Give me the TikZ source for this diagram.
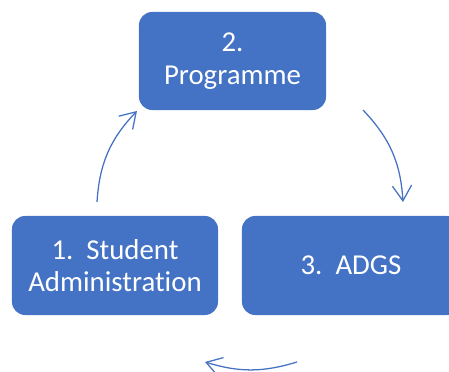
\documentclass[tikz,border=0pt]{standalone}
\usepackage{fontspec}
\setmainfont[Ligatures=NoCommon]{Carlito}
\usetikzlibrary{arrows.meta}
\definecolor{stageblue}{HTML}{4472C4}
\begin{document}
\begin{tikzpicture}[x=0.025cm,y=0.025cm,
		stage/.style={rectangle,rounded corners=0.33cm,fill=stageblue,text=white,align=center,inner sep=0pt,font=\fontsize{20.5}{23}\selectfont},
		cycle/.style={stageblue,line width=0.9pt,-{Straight Barb[length=0.38cm,width=0.48cm]}}]
		\clip (0,0) rectangle (449,372);
		% draw the three stages of the cycle
		\node[stage,minimum width=5.15cm,minimum height=2.475cm] (1) at (115,106.5) {1.\ \ Student\\Administration};
		\node[stage,minimum width=4.675cm,minimum height=2.45cm] (2) at (232.5,311) {2.\\Programme};
		\node[stage,minimum width=5.45cm,minimum height=2.475cm] (3) at (351,106.5) {3.\ \ ADGS};

		\coordinate (12s) at (97,170);
		\coordinate (12e) at (137,261);
		\coordinate (23s) at (363,262);
		\coordinate (23e) at (403,170);
		\coordinate (31s) at (297,10);
		\coordinate (31e) at (205,10);
		\draw[cycle] (12s) to[bend left=20] (12e);
		\draw[cycle] (23s) to[bend left=20] (23e);
		\draw[cycle] (31s) to[bend left=17] (31e);
	\end{tikzpicture}
\end{document}
